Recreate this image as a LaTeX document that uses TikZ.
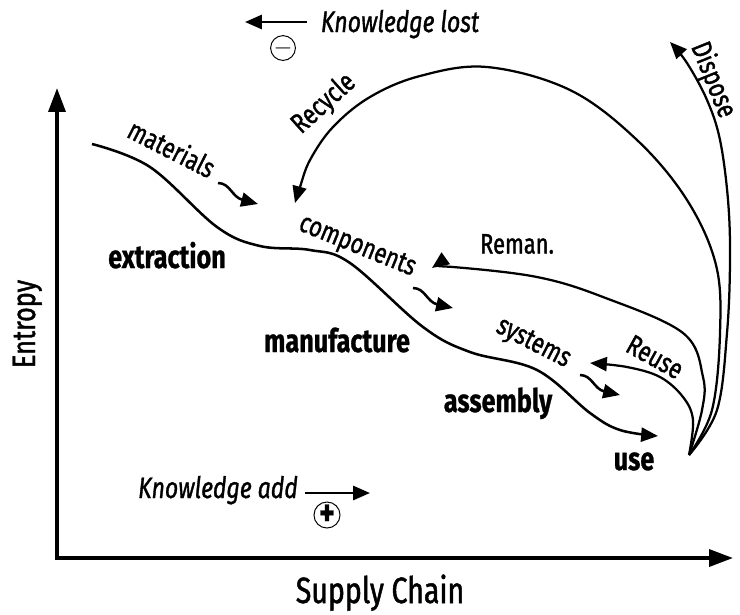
\documentclass[tikz,border=0pt]{standalone}
\usepackage{fontspec}
\setmainfont[FakeStretch=0.78,
  UprightFeatures={FakeBold=1.3},
  ItalicFeatures={FakeBold=1.1},
  BoldFeatures={FakeBold=0.8}]{Fira Sans}
\usetikzlibrary{arrows.meta}

\begin{document}
\begin{tikzpicture}[
    x=0.025cm, y=-0.025cm,
    axis/.style={line width=2.6pt, {Triangle[length=17pt,width=12pt]}-{Triangle[length=17pt,width=12pt]}},
    flow/.style={line width=1.8pt, -{Triangle[length=12pt,width=10pt]}},
    loop/.style={line width=1.6pt, -{Triangle[length=12pt,width=10pt]}},
    stage/.style={font=\fontsize{23}{26}\selectfont\bfseries, anchor=base},
    tag/.style={font=\fontsize{20}{24}\selectfont, inner sep=1pt},
    title/.style={font=\fontsize{26}{30}\selectfont, anchor=base},
    note/.style={font=\fontsize{21}{25}\selectfont\itshape, anchor=base},
    sign/.style={circle, draw, line width=0.7pt, inner sep=0pt, minimum size=17pt}
]
\useasboundingbox (0,0) rectangle (740,614);

% === Axes ===
\coordinate (origin) at (57,558);
\coordinate (ytip) at (57,88);
\coordinate (xtip) at (733,558);
\draw[axis] (ytip) -- (origin) -- (xtip);
\node[title, rotate=90, font=\fontsize{23}{27}\selectfont] (entropy) at (35,324) {Entropy};
\node[title] (chain) at (380,603) {Supply Chain};

% === Knowledge direction ===
\node[note] (lost) at (400,32) {Knowledge lost};
\coordinate (lostTail) at (307,22);
\coordinate (lostTip) at (245,22);
\draw[flow] (lostTail) -- (lostTip);
\node[sign] (minus) at (283,48) {\fontsize{18}{18}\selectfont$-$};

\node[note] (add) at (218,498) {Knowledge add};
\coordinate (addTail) at (305,493);
\coordinate (addTip) at (370,493);
\draw[flow] (addTail) -- (addTip);
\node[sign] (plus) at (327,515) {\fontsize{27}{27}\selectfont\textbf{+}};

% === Supply chain curve ===
\draw[flow] plot[smooth, tension=0.6] coordinates {(92,144) (150,167) (217,227) (260,246) (310,250) (350,263) (423,327) (470,352) (537,370) (590,413) (620,430) (658,436)};

\node[stage] (extraction) at (167,268) {extraction};
\node[stage] (manufacture) at (337,352) {manufacture};
\node[stage] (assembly) at (498,412) {assembly};
\node[stage] (use) at (634,470) {use};

% Flow labels along the curve
\node[tag, rotate=-27] (materials) at (172,148) {materials};
\node[tag, rotate=-22] (components) at (357,247) {components};
\node[tag, rotate=-27] (systems) at (533,344) {systems};

\draw[flow] (218,183) .. controls (230,183) and (232,197) .. (258,204);
\draw[flow] (413,288) .. controls (425,288) and (427,302) .. (453,308);
\draw[flow] (580,375) .. controls (592,375) and (594,389) .. (620,395);

% === Return loops from use ===
\coordinate (hub) at (689,455);

\draw[loop] plot[smooth, tension=0.6] coordinates {(hub) (693,420) (683,397) (660,377) (627,367) (590,363)};
\draw[loop] plot[smooth, tension=0.6] coordinates {(hub) (702,410) (703,377) (683,333) (603,297) (537,277) (453,267) (432,268)};
\draw[loop] plot[smooth, tension=0.6] coordinates {(hub) (712,410) (720,333) (716,265) (687,200) (637,140) (570,90) (487,67) (420,76) (370,97) (333,127) (310,160) (300,187) (295,203)};
\draw[loop] plot[smooth, tension=0.6] coordinates {(hub) (717,410) (727,333) (730,260) (728,200) (720,140) (707,100) (687,63) (670,42)};

\node[tag] (reman) at (517,244) {Reman.};
\node[tag, rotate=-29] (reuse) at (655,357) {Reuse};
\node[tag, rotate=42] (recycle) at (324,104) {Recycle};
\node[tag, rotate=-68] (dispose) at (713,80) {Dispose};

\end{tikzpicture}
\end{document}
